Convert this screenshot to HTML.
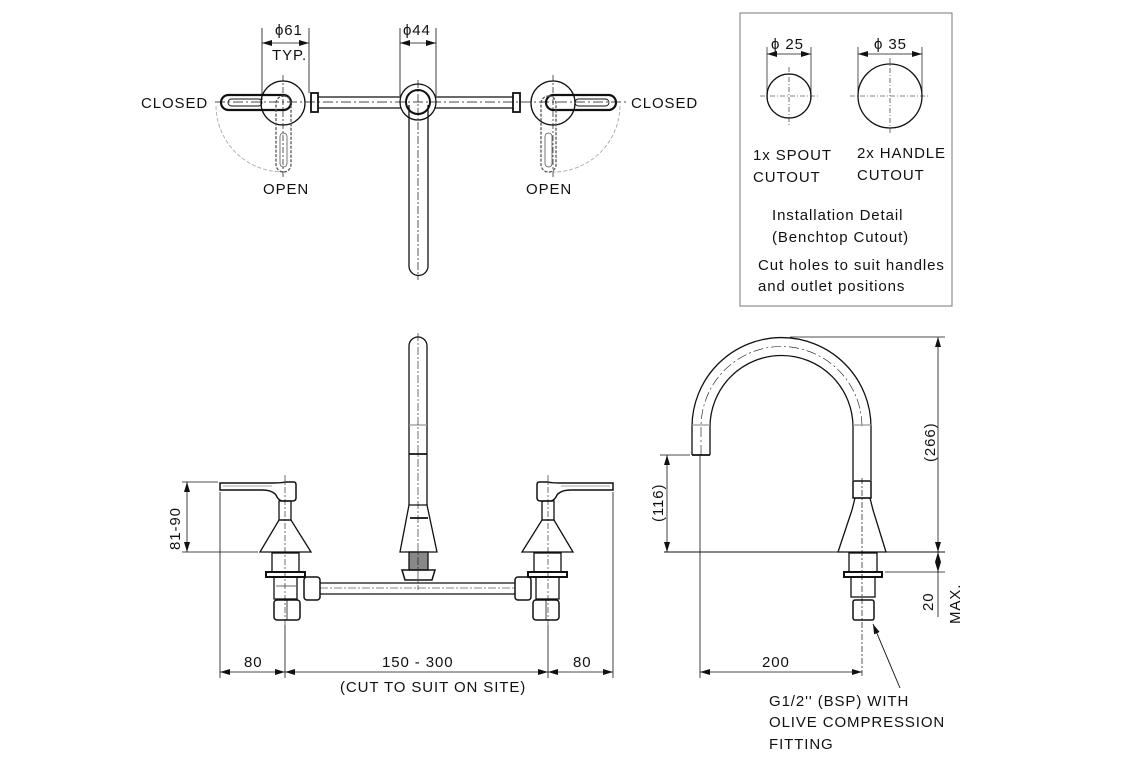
<!DOCTYPE html>
<html><head><meta charset="utf-8"><style>
html,body{margin:0;padding:0;background:#fff;}
svg{display:block;}
text{font-family:"Liberation Sans",sans-serif;font-size:15px;fill:#111;letter-spacing:0.9px;}
</style></head><body>
<svg width="1140" height="760" viewBox="0 0 1140 760" xmlns="http://www.w3.org/2000/svg">
<defs>
<marker id="a" markerWidth="10" markerHeight="6" refX="10" refY="3" orient="auto-start-reverse" markerUnits="userSpaceOnUse"><path d="M0,0 L10,3 L0,6 Z" fill="#111"/></marker>
</defs>
<g fill="none" stroke="#111" stroke-width="1.3">
<!-- TOP VIEW -->
<line x1="215" y1="102" x2="628" y2="102" stroke-dasharray="10,3,2,3" stroke-width="0.8"/>
<path d="M216,106 A67,67 0 0 0 283,172" stroke="#aaa" stroke-dasharray="4,2" stroke-width="0.9"/>
<path d="M620,106 A67,67 0 0 1 553,172" stroke="#aaa" stroke-dasharray="4,2" stroke-width="0.9"/>
<circle cx="283" cy="103" r="22"/>
<circle cx="553" cy="103" r="22"/>
<rect x="221" y="95" width="70" height="15" rx="7.5" stroke-width="2.2"/>
<rect x="228" y="99" width="34" height="7" rx="3.5" stroke-width="0.9"/>
<rect x="546" y="95" width="70" height="15" rx="7.5" stroke-width="2.2"/>
<rect x="575" y="99" width="34" height="7" rx="3.5" stroke-width="0.9"/>
<rect x="276" y="96" width="15" height="76" rx="7.5" stroke="#555" stroke-dasharray="3,1.5"/>
<rect x="280" y="133" width="7" height="34" rx="3.5" stroke="#555" stroke-width="0.8"/>
<rect x="541" y="96" width="15" height="76" rx="7.5" stroke="#555" stroke-dasharray="3,1.5"/>
<rect x="545" y="133" width="7" height="34" rx="3.5" stroke="#555" stroke-width="0.8"/>
<line x1="283" y1="75" x2="283" y2="178" stroke-dasharray="6,2,2,2" stroke-width="0.7"/>
<line x1="553" y1="75" x2="553" y2="178" stroke-dasharray="6,2,2,2" stroke-width="0.7"/>
<rect x="311" y="93" width="7" height="19" stroke-width="1.8"/>
<rect x="513" y="93" width="7" height="19" stroke-width="1.8"/>
<line x1="318" y1="97" x2="401" y2="97"/><line x1="318" y1="108" x2="401" y2="108"/>
<line x1="435" y1="97" x2="513" y2="97"/><line x1="435" y1="108" x2="513" y2="108"/>
<circle cx="418" cy="102" r="18"/>
<circle cx="418" cy="102" r="12" stroke-width="2"/>
<path d="M409,105 L409,266 A9.5,9.5 0 0 0 428,266 L428,105" />
<line x1="418" y1="80" x2="418" y2="280" stroke-dasharray="8,2,2,2" stroke-width="0.7"/>
<!-- top dims -->
<line x1="262" y1="28" x2="262" y2="100" stroke-width="0.8"/>
<line x1="309" y1="28" x2="309" y2="93" stroke-width="0.8"/>
<line x1="262" y1="43" x2="309" y2="43" stroke-width="0.8" marker-start="url(#a)" marker-end="url(#a)"/>
<line x1="400" y1="28" x2="400" y2="96" stroke-width="0.8"/>
<line x1="436" y1="28" x2="436" y2="96" stroke-width="0.8"/>
<line x1="400" y1="43" x2="436" y2="43" stroke-width="0.8" marker-start="url(#a)" marker-end="url(#a)"/>
<!-- INSTALL BOX -->
<rect x="740" y="13" width="212" height="293" stroke="#777" stroke-width="1"/>
<circle cx="789" cy="96" r="22"/>
<circle cx="890" cy="96" r="32"/>
<line x1="760" y1="96" x2="818" y2="96" stroke-dasharray="5,2,1,2" stroke-width="0.6"/>
<line x1="789" y1="67" x2="789" y2="125" stroke-dasharray="5,2,1,2" stroke-width="0.6"/>
<line x1="850" y1="96" x2="930" y2="96" stroke-dasharray="5,2,1,2" stroke-width="0.6"/>
<line x1="890" y1="58" x2="890" y2="135" stroke-dasharray="5,2,1,2" stroke-width="0.6"/>
<line x1="767" y1="47" x2="767" y2="96" stroke-width="0.7"/><line x1="811" y1="47" x2="811" y2="96" stroke-width="0.7"/>
<line x1="767" y1="54" x2="811" y2="54" stroke-width="0.7" marker-start="url(#a)" marker-end="url(#a)"/>
<line x1="858" y1="47" x2="858" y2="96" stroke-width="0.7"/><line x1="922" y1="47" x2="922" y2="96" stroke-width="0.7"/>
<line x1="858" y1="54" x2="922" y2="54" stroke-width="0.7" marker-start="url(#a)" marker-end="url(#a)"/>
<!-- FRONT VIEW -->
<g id="lh">
<path d="M220,483 L270,483 Q283,483 285,482 L294,482 Q296,482 296,485 L296,498 Q296,501 292,501 L282,501 Q278,500 276,495 Q272,490 262,490 L220,490 Z" stroke-width="1.5"/>
<line x1="223" y1="486" x2="272" y2="486" stroke="#888" stroke-width="0.8"/>
<rect x="279" y="501" width="12" height="19"/>
<path d="M279,520 L291,520 L311,552 L260,552 Z"/>
<rect x="272" y="553" width="27" height="19"/>
<rect x="266" y="572" width="39" height="5" stroke-width="2"/>
<rect x="274" y="577" width="23" height="22"/>
<path d="M276,586 L296,586" stroke="#888"/>
<rect x="274" y="600" width="26" height="20" rx="3" stroke-width="1.5"/>
<line x1="287" y1="600" x2="287" y2="620" stroke-width="0.8"/>
<line x1="285" y1="475" x2="285" y2="625" stroke-dasharray="6,2,2,2" stroke-width="0.6"/>
</g>
<g transform="translate(833,0) scale(-1,1)">
<path d="M220,483 L270,483 Q283,483 285,482 L294,482 Q296,482 296,485 L296,498 Q296,501 292,501 L282,501 Q278,500 276,495 Q272,490 262,490 L220,490 Z" stroke-width="1.5"/>
<line x1="223" y1="486" x2="272" y2="486" stroke="#888" stroke-width="0.8"/>
<rect x="279" y="501" width="12" height="19"/>
<path d="M279,520 L291,520 L311,552 L260,552 Z"/>
<rect x="272" y="553" width="27" height="19"/>
<rect x="266" y="572" width="39" height="5" stroke-width="2"/>
<rect x="274" y="577" width="23" height="22"/>
<rect x="274" y="600" width="26" height="20" rx="3" stroke-width="1.5"/>
<line x1="287" y1="600" x2="287" y2="620" stroke-width="0.8"/>
<line x1="285" y1="475" x2="285" y2="625" stroke-dasharray="6,2,2,2" stroke-width="0.6"/>
</g>
<rect x="304" y="577" width="16" height="23" rx="3" stroke-width="1.5"/>
<rect x="515" y="577" width="16" height="23" rx="3" stroke-width="1.5"/>
<line x1="320" y1="583" x2="515" y2="583"/><line x1="320" y1="594" x2="515" y2="594"/>
<line x1="320" y1="588" x2="515" y2="588" stroke-dasharray="8,2,2,2" stroke-width="0.6"/>
<path d="M409,505 L409,346 A9,9 0 0 1 427,346 L427,505"/>
<line x1="409" y1="454" x2="427" y2="454" stroke-width="1.8"/>
<line x1="409" y1="425" x2="427" y2="425" stroke="#999"/>
<path d="M409,505 L427,505 L437,552 L400,552 Z"/>
<line x1="410" y1="518" x2="428" y2="518" stroke-width="1.8"/>
<rect x="409" y="552" width="19" height="18" fill="#888"/>
<path d="M402,570 L435,570 L432,580 L405,580 Z" stroke-width="1.5"/>
<line x1="418" y1="333" x2="418" y2="590" stroke-dasharray="8,2,2,2" stroke-width="0.6"/>
<!-- front dims -->
<line x1="182" y1="482" x2="218" y2="482" stroke-width="0.8"/>
<line x1="182" y1="552" x2="258" y2="552" stroke-width="0.8"/>
<line x1="187" y1="482" x2="187" y2="552" stroke-width="0.8" marker-start="url(#a)" marker-end="url(#a)"/>
<line x1="220" y1="492" x2="220" y2="678" stroke-width="0.8"/>
<line x1="285" y1="625" x2="285" y2="678" stroke-width="0.8"/>
<line x1="548" y1="625" x2="548" y2="678" stroke-width="0.8"/>
<line x1="613" y1="492" x2="613" y2="678" stroke-width="0.8"/>
<line x1="220" y1="672" x2="285" y2="672" stroke-width="0.8" marker-start="url(#a)" marker-end="url(#a)"/>
<line x1="285" y1="672" x2="548" y2="672" stroke-width="0.8" marker-start="url(#a)" marker-end="url(#a)"/>
<line x1="548" y1="672" x2="613" y2="672" stroke-width="0.8" marker-start="url(#a)" marker-end="url(#a)"/>
<!-- SIDE VIEW -->
<line x1="664" y1="552" x2="945" y2="552" stroke-width="1"/>
<path d="M692,455 L692,427 A89.5,89.5 0 0 1 871,427 L871,480"/>
<path d="M710,455 L710,427 A71.5,71.5 0 0 1 853,427 L853,480"/>
<path d="M701,455 L701,427 A80.5,80.5 0 0 1 862,427" stroke-dasharray="10,3,2,3" stroke-width="0.6"/>
<line x1="692" y1="455" x2="710" y2="455" stroke-width="1.8"/>
<line x1="692" y1="425" x2="710" y2="425" stroke="#999"/>
<line x1="853" y1="425" x2="871" y2="425" stroke="#999"/>
<rect x="853" y="481" width="18" height="17" stroke-width="1.5"/>
<path d="M855,498 L870,498 L873,510 L886,552 L838,552 L852,510 Z"/>
<rect x="849" y="553" width="28" height="19"/>
<rect x="844" y="572" width="38" height="5" stroke-width="2"/>
<rect x="851" y="577" width="24" height="20"/>
<rect x="853" y="600" width="21" height="20" rx="2" stroke-width="1.5"/>
<line x1="862" y1="478" x2="862" y2="678" stroke-dasharray="6,2,2,2" stroke-width="0.7"/>
<line x1="700" y1="455" x2="700" y2="678" stroke-width="0.8"/>
<line x1="790" y1="337" x2="945" y2="337" stroke-width="0.8"/>
<line x1="938" y1="337" x2="938" y2="552" stroke-width="0.8" marker-start="url(#a)" marker-end="url(#a)"/>
<line x1="660" y1="455" x2="690" y2="455" stroke-width="0.8"/>
<line x1="667" y1="455" x2="667" y2="552" stroke-width="0.8" marker-start="url(#a)" marker-end="url(#a)"/>
<line x1="885" y1="572" x2="945" y2="572" stroke-width="0.8"/>
<line x1="938" y1="552" x2="938" y2="572" stroke-width="0.8" marker-start="url(#a)" marker-end="url(#a)"/>
<line x1="938" y1="572" x2="938" y2="617" stroke-width="0.8"/>
<line x1="700" y1="672" x2="862" y2="672" stroke-width="0.8" marker-start="url(#a)" marker-end="url(#a)"/>
<line x1="900" y1="688" x2="873" y2="624" stroke-width="0.9" marker-end="url(#a)"/>
</g>
<!-- TEXT -->
<text x="141" y="108">CLOSED</text>
<text x="631" y="108">CLOSED</text>
<text x="263" y="194">OPEN</text>
<text x="526" y="194">OPEN</text>
<text x="275" y="35" font-size="14">ϕ61</text>
<text x="272" y="60" font-size="14">TYP.</text>
<text x="403" y="35" font-size="14">ϕ44</text>
<text x="771" y="49" font-size="14">ϕ 25</text>
<text x="874" y="49" font-size="14">ϕ 35</text>
<text x="753" y="160">1x SPOUT</text>
<text x="753" y="182">CUTOUT</text>
<text x="857" y="158">2x HANDLE</text>
<text x="857" y="180">CUTOUT</text>
<text x="772" y="220">Installation Detail</text>
<text x="772" y="242">(Benchtop Cutout)</text>
<text x="758" y="270">Cut holes to suit handles</text>
<text x="758" y="291">and outlet positions</text>
<text x="0" y="0" transform="translate(180,550) rotate(-90)">81-90</text>
<text x="244" y="667">80</text>
<text x="382" y="667">150 - 300</text>
<text x="573" y="667">80</text>
<text x="340" y="692">(CUT TO SUIT ON SITE)</text>
<text x="0" y="0" transform="translate(663,522) rotate(-90)">(116)</text>
<text x="0" y="0" transform="translate(935,462) rotate(-90)">(266)</text>
<text x="0" y="0" transform="translate(933,611) rotate(-90)">20</text>
<text x="0" y="0" transform="translate(960,624) rotate(-90)">MAX.</text>
<text x="762" y="667">200</text>
<text x="769" y="706">G1/2'' (BSP) WITH</text>
<text x="769" y="727">OLIVE COMPRESSION</text>
<text x="769" y="749">FITTING</text>
</svg>
</body></html>
